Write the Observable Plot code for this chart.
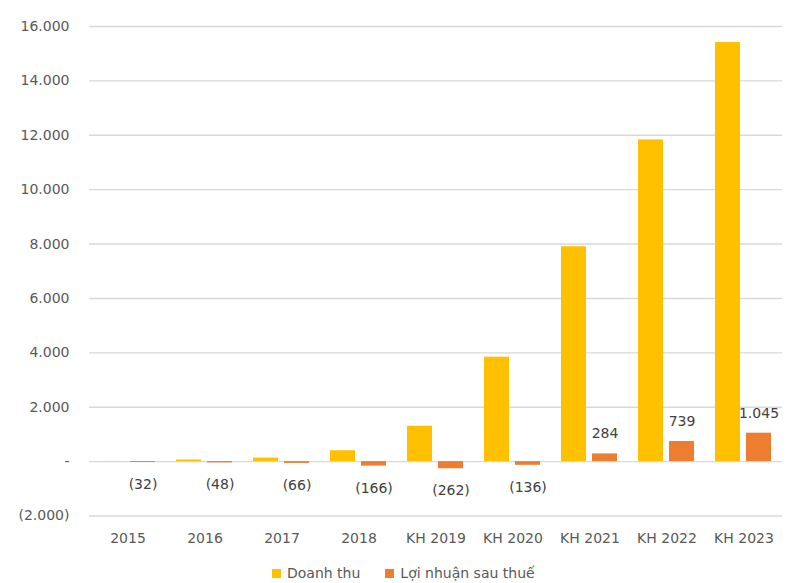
<!DOCTYPE html>
<html>
<head>
<meta charset="utf-8">
<script src="https://cdn.jsdelivr.net/npm/d3@7"></script>
<script src="https://cdn.jsdelivr.net/npm/@observablehq/plot@0.6"></script>
<style>
  html, body { margin: 0; padding: 0; background: #fff; }
  #wrap { position: relative; width: 800px; height: 583px; overflow: hidden; }
  #legend { position: absolute; left: 272px; top: 565px; display: flex; align-items: center;
    font-family: "DejaVu Sans", sans-serif; font-size: 14px; line-height: 17px; color: #595959; white-space: nowrap; }
  #legend .item { display: flex; align-items: center; margin-right: 25px; }
  #legend .sw { width: 9px; height: 9px; margin-right: 6px; }
</style>
</head>
<body>
<div id="wrap">
  <div id="chart"></div>
  <div id="legend"></div>
</div>
<script>
const categories = ["2015", "2016", "2017", "2018", "KH 2019", "KH 2020", "KH 2021", "KH 2022", "KH 2023"];
const seriesNames = ["Doanh thu", "Lợi nhuận sau thuế"];
const revenue = [5, 60, 130, 400, 1300, 3840, 7900, 11830, 15410];
const profit = [-32, -48, -66, -166, -262, -136, 284, 739, 1045];
const yTicks = [-2000, 0, 2000, 4000, 6000, 8000, 10000, 12000, 14000, 16000];
const seriesColors = ["#FFC000", "#ED7D31"];

const loc = d3.formatLocale({decimal: ",", thousands: ".", grouping: [3], currency: ["", ""]});
const num = loc.format(",");
const fmt = v => v < 0 ? `(${num(-v)})` : v === 0 ? "-" : num(v);

const data = [];
categories.forEach((c, i) => {
  data.push({cat: c, series: seriesNames[0], value: revenue[i]});
  data.push({cat: c, series: seriesNames[1], value: profit[i]});
});
const profitRows = data.filter(d => d.series === seriesNames[1]);
const neg = profitRows.filter(d => d.value < 0);
const pos = profitRows.filter(d => d.value >= 0);

const chart = Plot.plot({
  width: 800,
  height: 560,
  marginLeft: 87,
  marginRight: 17,
  marginTop: 26,
  marginBottom: 44.5,
  style: {fontFamily: "DejaVu Sans, sans-serif", fontSize: "14px", color: "#595959", background: "#fff"},
  y: {domain: [-2000, 16000], ticks: yTicks, tickFormat: fmt, tickSize: 0, tickPadding: 20, label: null},
  fx: {domain: categories, padding: 0, label: null, tickSize: 0, tickPadding: 17, axis: "bottom"},
  x: {domain: seriesNames, paddingInner: 0.19, paddingOuter: 0.322, axis: null},
  color: {domain: seriesNames, range: seriesColors},
  marks: [
    Plot.ruleY(yTicks, {stroke: "#d9d9d9", strokeWidth: 1.4}),
    Plot.barY(data, {fx: "cat", x: "series", y: "value", fill: "series"}),
    Plot.text(neg, {fx: "cat", x: "series", y: "value", text: d => fmt(d.value), dy: 22, fill: "#404040", fontSize: 14}),
    Plot.text(pos, {fx: "cat", x: "series", y: "value", text: d => fmt(d.value), dy: -20, fill: "#404040", fontSize: 14})
  ]
});
document.getElementById("chart").appendChild(chart);

const legend = document.getElementById("legend");
seriesNames.forEach((s, i) => {
  const item = document.createElement("div");
  item.className = "item";
  const sw = document.createElement("span");
  sw.className = "sw";
  sw.style.background = seriesColors[i];
  const t = document.createElement("span");
  t.textContent = s;
  item.appendChild(sw);
  item.appendChild(t);
  legend.appendChild(item);
});
</script>
</body>
</html>
